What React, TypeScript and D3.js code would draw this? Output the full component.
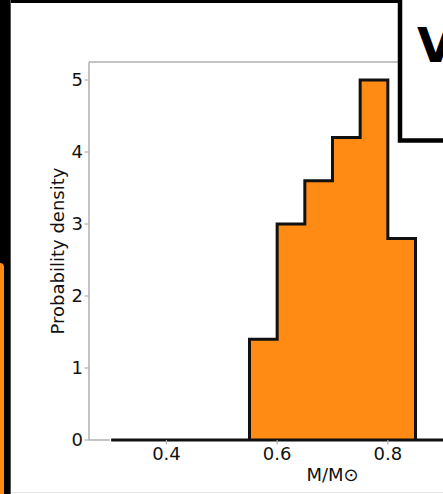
import * as d3 from 'd3';

// histogram bins (M/M⊙), width 0.05
const binEdges = [0.3, 0.35, 0.4, 0.45, 0.5, 0.55, 0.6, 0.65, 0.7, 0.75, 0.8, 0.85, 0.9, 0.95, 1.0, 1.05, 1.1];
const density = [0, 0, 0, 0, 0, 1.4, 3.0, 3.6, 4.2, 5.0, 2.8, 0, 0, 0, 0, 0];
const xTicks = [0.4, 0.6, 0.8];
const yTicks = [0, 1, 2, 3, 4, 5];

const W = 443;
const H = 494;
const font = 'DejaVu Sans, sans-serif';
const spine = '#b0b0b0';

export default function App() {
  const left = 89;
  const right = 576;
  const top = 62;
  const bottom = 440;

  const x = d3.scaleLinear().domain([0.26, 1.14]).range([left, right]);
  const y = d3.scaleLinear().domain([0, 5.25]).range([bottom, top]);

  // stepfilled outline, closed along the baseline
  const pts: [number, number][] = [[binEdges[0], 0]];
  density.forEach((d, i) => {
    pts.push([binEdges[i], d]);
    pts.push([binEdges[i + 1], d]);
  });
  pts.push([binEdges[binEdges.length - 1], 0]);
  const line = d3.line<[number, number]>().x((p) => x(p[0])).y((p) => y(p[1]));
  const path = line(pts) + 'Z';

  return (
    <div style={{ position: 'absolute', left: 0, top: 0 }}>
      <svg width={W} height={H} style={{ display: 'block', background: '#fff' }}>
        <defs>
          <clipPath id="plot">
            <rect x={0} y={0} width={W} height={H} />
          </clipPath>
        </defs>

        {/* axes spines */}
        <line x1={left} x2={W} y1={top} y2={top} stroke={spine} strokeWidth={1.5} />
        <line x1={left} x2={left} y1={top} y2={bottom} stroke={spine} strokeWidth={1.5} />

        {/* histogram */}
        <path d={path} fill="#ff8a14" stroke="#111" strokeWidth={3} strokeLinejoin="miter" clipPath="url(#plot)" />

        <line x1={left} x2={x(binEdges[0]) - 1.5} y1={bottom} y2={bottom} stroke={spine} strokeWidth={1.5} />

        {/* y axis */}
        {yTicks.map((t) => (
          <g key={t}>
            <line x1={left - 4.5} x2={left} y1={y(t)} y2={y(t)} stroke={spine} strokeWidth={1.2} />
            <text x={83} y={y(t)} dy="0.36em" textAnchor="end" fontFamily={font} fontSize={18} fill="#111">
              {t}
            </text>
          </g>
        ))}

        {/* x axis */}
        {xTicks.map((t) => (
          <g key={t}>
            <line x1={x(t)} x2={x(t)} y1={bottom} y2={bottom + 4.5} stroke={spine} strokeWidth={1.2} />
            <text x={x(t)} y={460} textAnchor="middle" fontFamily={font} fontSize={18} fill="#111">
              {t.toFixed(1)}
            </text>
          </g>
        ))}

        <text x={(left + right) / 2} y={480.5} textAnchor="middle" fontFamily={font} fontSize={18} fill="#111">
          M/M⊙
        </text>
        <text
          transform={`translate(63.5,${(top + bottom) / 2}) rotate(-90)`}
          textAnchor="middle"
          fontFamily={font}
          fontSize={18}
          fill="#111"
        >
          Probability density
        </text>

        {/* slide frame */}
        <rect x={0} y={0} width={W} height={3} fill="#000" />
        <rect x={0} y={0} width={10} height={H} fill="#000" />
        <rect x={10} y={0} width={1} height={H} fill="#555" />
        <rect x={-6} y={263} width={10} height={H} rx={4} fill="#ff8a14" />
        <rect x={11} y={492} width={W} height={1} fill="#e6e6e6" />

        {/* label box */}
        <rect x={400} y={-10} width={80} height={150.5} fill="#fff" stroke="#000" strokeWidth={4.5} />
        <text x={417} y={62} fontFamily={font} fontSize={48} fontWeight="bold" fill="#000">
          V
        </text>
      </svg>
    </div>
  );
}
